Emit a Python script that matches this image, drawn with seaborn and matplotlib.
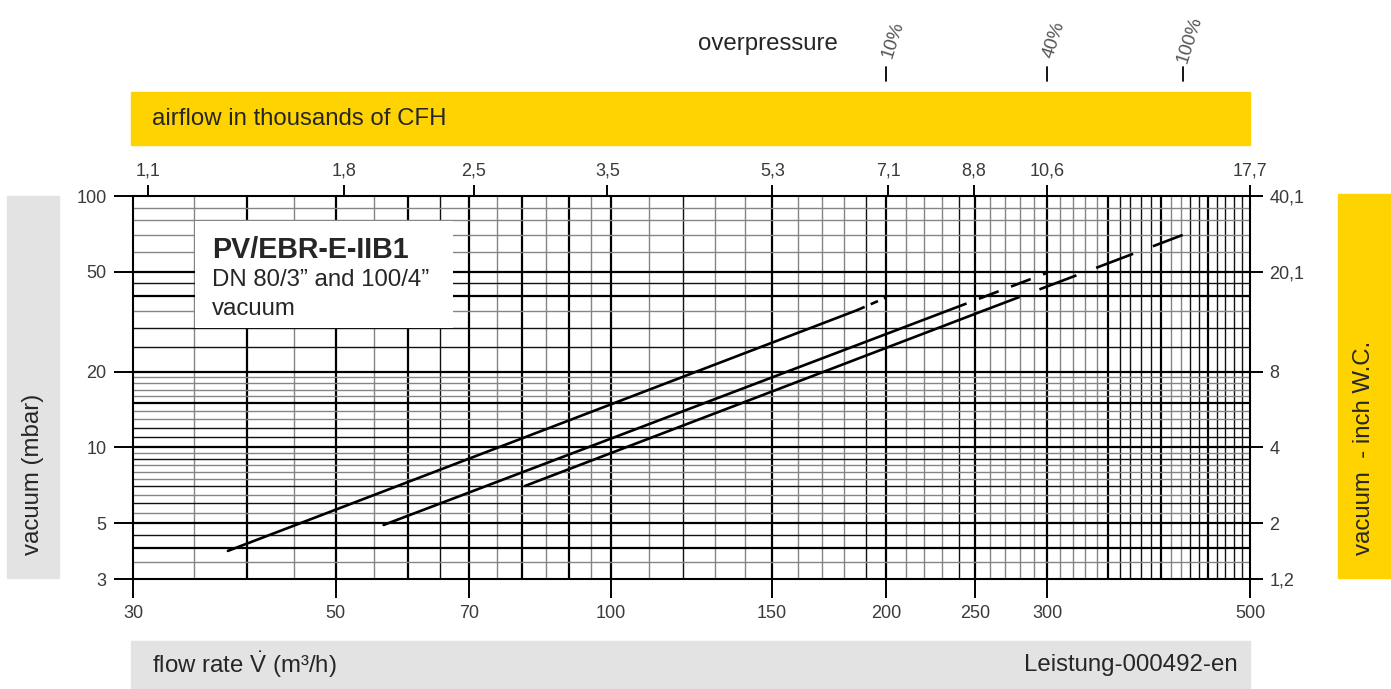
import numpy as np
import pandas as pd
import matplotlib
matplotlib.use("Agg")
import matplotlib.pyplot as plt
import matplotlib.transforms as mtransforms
from matplotlib.patches import Rectangle
from matplotlib.lines import Line2D
from matplotlib.ticker import NullLocator
import seaborn as sns

# ---------------- data ----------------
curve_a_flow = [38.1, 186.0, 200.0]
curve_a_vac = [3.88, 35.2, 39.5]
curve_b_flow = [56.4, 233.0, 300.0]
curve_b_vac = [4.92, 34.9, 49.5]
curve_c_flow = [80.5, 255.0, 422.0]
curve_c_vac = [7.03, 34.9, 70.0]

x_tick_values = [30, 50, 70, 100, 150, 200, 250, 300, 500]
y_tick_values = [3, 5, 10, 20, 50, 100]
cfh_labels = ["1,1", "1,8", "2,5", "3,5", "5,3", "7,1", "8,8", "10,6", "17,7"]
cfh_positions = [31.15, 51.0, 70.8, 99.1, 150.1, 201.0, 249.2, 300.2, 500.0]
inwc_labels = ["40,1", "20,1", "8", "4", "2", "1,2"]
overpressure_labels = ["10%", "40%", "100%"]
overpressure_flow = [200, 300, 422]

# grid lines of the log paper
v_thick = [40, 50, 60, 70, 80, 90, 100, 150, 200, 250, 300, 350, 400, 450]
v_black = [65, 120, 190, 240, 360, 370, 380, 390, 430, 440, 460, 470, 480, 490]
v_gray = [35, 45, 55, 75, 85, 95, 110, 130, 140, 160, 170, 180, 210, 220, 230,
          260, 270, 280, 290, 310, 320, 330, 340, 410, 420]
h_thick = [4, 5, 10, 15, 20, 40, 50]
h_black = [4.5, 6, 7, 9, 11, 12, 25, 30, 45]
h_gray = [3.5, 5.5, 6.5, 7.5, 8, 8.5, 9.5, 13, 14, 16, 17, 18, 19, 35, 60, 70, 80, 90]

# ---------------- style ----------------
sns.set_style("white")
plt.rcParams['font.family'] = ['Liberation Sans', 'DejaVu Sans']
plt.rcParams['mathtext.fontset'] = 'custom'
plt.rcParams['mathtext.rm'] = 'Liberation Sans'
plt.rcParams['mathtext.it'] = 'Liberation Sans:italic'
plt.rcParams['mathtext.bf'] = 'Liberation Sans:bold'

W, H = 1391, 689
fig = plt.figure(figsize=(W / 100, H / 100), dpi=100)


def fx(x):
    return x / W


def fy(y):
    return 1 - y / H


YELLOW = "#FFD300"
GRAY = "#E3E3E3"
TICKC = "#3a3a3a"

# bands
fig.patches.append(Rectangle((fx(131), fy(145)), fx(1250) - fx(131), fy(92) - fy(145),
                             transform=fig.transFigure, color=YELLOW, zorder=0))
fig.patches.append(Rectangle((fx(131), fy(689)), fx(1250) - fx(131), fy(641) - fy(689),
                             transform=fig.transFigure, color=GRAY, zorder=0))
fig.patches.append(Rectangle((fx(7), fy(578)), fx(59) - fx(7), fy(196) - fy(578),
                             transform=fig.transFigure, color=GRAY, zorder=0))
fig.patches.append(Rectangle((fx(1338), fy(578)), fx(1390) - fx(1338), fy(194) - fy(578),
                             transform=fig.transFigure, color=YELLOW, zorder=0))

LBL = 17.3
fig.text(fx(152), fy(119), "airflow in thousands of CFH", fontsize=LBL, va="center", ha="left")
fig.text(fx(152), fy(665), r"flow rate $\dot{\mathrm{V}}$ (m³/h)", fontsize=LBL,
         va="center", ha="left")
fig.text(fx(1238), fy(665), "Leistung-000492-en", fontsize=LBL, va="center", ha="right")
fig.text(fx(33), fy(555), "vacuum (mbar)", fontsize=LBL, rotation=90, va="bottom", ha="center")
fig.text(fx(1364), fy(555), "vacuum  - inch W.C.", fontsize=LBL, rotation=90, va="bottom", ha="center")
fig.text(fx(838), fy(44), "overpressure", fontsize=LBL, va="center", ha="right")

# ---------------- main axes ----------------
ax = fig.add_axes([fx(133), fy(579), fx(1250) - fx(133), fy(196) - fy(579)])
ax.set_xscale("log")
ax.set_yscale("log")
ax.set_xlim(30, 500)
ax.set_ylim(3, 100)

ax.vlines(v_gray, 3, 100, colors="#858585", lw=1.0, zorder=1)
ax.vlines(v_black, 3, 100, colors="#111111", lw=1.0, zorder=1)
ax.vlines(v_thick, 3, 100, colors="#000000", lw=1.6, zorder=1)
ax.hlines(h_gray, 30, 500, colors="#858585", lw=1.0, zorder=1)
ax.hlines(h_black, 30, 500, colors="#111111", lw=1.0, zorder=1)
ax.hlines(h_thick, 30, 500, colors="#000000", lw=1.6, zorder=1)

# white label box
ax.add_patch(Rectangle((0.0555, 0.6554), 0.2310, 0.2793, transform=ax.transAxes,
                       facecolor="white", edgecolor="none", zorder=2))
ax.text(0.0707, 0.860, "PV/EBR-E-IIB1", transform=ax.transAxes, fontsize=20.6,
        fontweight="bold", va="center", ha="left", zorder=3)
ax.text(0.0707, 0.780, "DN 80/3” and 100/4”", transform=ax.transAxes, fontsize=17.3,
        va="center", ha="left", zorder=3)
ax.text(0.0707, 0.705, "vacuum", transform=ax.transAxes, fontsize=17.3,
        va="center", ha="left", zorder=3)

# curves
rows = []
for name, fl, va in [("a", curve_a_flow, curve_a_vac),
                     ("b", curve_b_flow, curve_b_vac),
                     ("c", curve_c_flow, curve_c_vac)]:
    for seg, idx in [("solid", (0, 1)), ("dashed", (1, 2))]:
        for i in idx:
            rows.append(dict(curve=name, seg=seg, unit=f"{name}-{seg}",
                             flow=fl[i], vac=va[i]))
df = pd.DataFrame(rows)
dash_map = {"a-solid": "", "b-solid": "", "c-solid": "",
            "a-dashed": (3, 2.5), "b-dashed": (8, 5), "c-dashed": (15, 8)}
sns.lineplot(data=df, x="flow", y="vac", units="unit", style="unit",
             dashes=dash_map, estimator=None,
             color="black", lw=1.9, legend=False, sort=False, ax=ax, zorder=4)

ax.set_xlabel("")
ax.set_ylabel("")
ax.set_xticks(x_tick_values)
ax.set_xticklabels([str(v) for v in x_tick_values])
ax.set_yticks(y_tick_values)
ax.set_yticklabels([str(v) for v in y_tick_values])
ax.xaxis.set_minor_locator(NullLocator())
ax.yaxis.set_minor_locator(NullLocator())
ax.tick_params(axis="both", which="major", direction="out", length=14, width=1.4,
               color="black", labelsize=13, labelcolor=TICKC, pad=5,
               bottom=True, left=True)
for sp in ax.spines.values():
    sp.set_color("black")
    sp.set_linewidth(1.5)
    sp.set_visible(True)
ax.grid(False)

# top axis: thousands of CFH
ax_top = ax.twiny()
ax_top.set_xscale("log")
ax_top.set_xlim(30, 500)
ax_top.set_xticks(cfh_positions)
ax_top.set_xticklabels(cfh_labels)
ax_top.xaxis.set_minor_locator(NullLocator())
ax_top.tick_params(axis="x", direction="out", length=8, width=1.4, color="black",
                   labelsize=13, labelcolor=TICKC, pad=4)
for sp in ax_top.spines.values():
    sp.set_visible(False)
ax_top.grid(False)

# right axis: inch W.C.
ax_r = ax.twinx()
ax_r.set_yscale("log")
ax_r.set_ylim(3, 100)
ax_r.set_yticks(y_tick_values)
ax_r.set_yticklabels(inwc_labels[::-1])
ax_r.yaxis.set_minor_locator(NullLocator())
ax_r.tick_params(axis="y", direction="out", length=9, width=1.4, color="black",
                 labelsize=13, labelcolor=TICKC, pad=5)
for sp in ax_r.spines.values():
    sp.set_visible(False)
ax_r.grid(False)

# overpressure marks
blend = mtransforms.blended_transform_factory(ax.transData, fig.transFigure)
for lab, xv in zip(overpressure_labels, overpressure_flow):
    fig.add_artist(Line2D([xv, xv], [fy(81), fy(67)], transform=blend,
                          color="black", lw=1.3))
    off = mtransforms.offset_copy(blend, fig=fig, x=7, y=0, units="dots")
    fig.text(xv, fy(40), lab, transform=off, fontsize=13.5, color="#555555",
             rotation=72, ha="center", va="center")

fig.savefig("out.png", dpi=100)
